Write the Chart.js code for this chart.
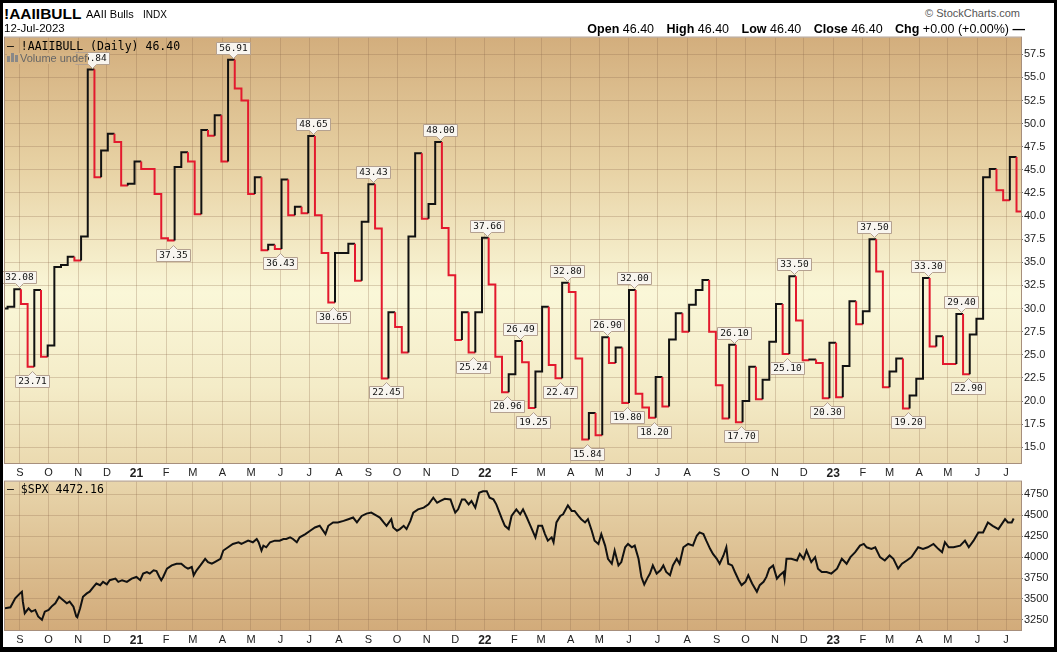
<!DOCTYPE html>
<html>
<head>
<meta charset="utf-8">
<script src="https://cdn.jsdelivr.net/npm/chart.js@4.4.0/dist/chart.umd.min.js"></script>
<style>
  body { margin: 0; background: #fff; }
  #wrap { position: relative; width: 1057px; height: 652px; overflow: hidden; background: #fff; font-family: "Liberation Sans", Arial, sans-serif; }
  canvas { position: absolute; left: 0; }
  .t { position: absolute; white-space: nowrap; color: #000; line-height: 1; }
  .mono { font-family: "DejaVu Sans Mono", monospace; font-size: 11.5px; }
  #frame { position: absolute; left: 0; top: 0; width: 1057px; height: 652px; box-sizing: border-box; border: 3px solid #000; border-bottom-width: 5px; pointer-events: none; }
  .ohlc b { margin-left: 9px; }
</style>
</head>
<body>
<div id="wrap">
  <canvas id="topChart" width="1057" height="449" style="top:30px"></canvas>
  <canvas id="botChart" width="1057" height="172" style="top:474px"></canvas>

  <div class="t" style="left:4px;top:6px;font-size:15.5px;font-weight:bold">!AAIIBULL</div>
  <div class="t" style="left:86px;top:9px;font-size:11px">AAII Bulls</div>
  <div class="t" style="left:143px;top:10px;font-size:10px">INDX</div>
  <div class="t" style="left:4px;top:23px;font-size:11.5px">12-Jul-2023</div>
  <div class="t" style="right:37px;top:8px;font-size:11px;color:#555">&copy; StockCharts.com</div>
  <div class="t ohlc" style="right:32px;top:23px;font-size:12.5px"><b>Open</b> 46.40 <b>High</b> 46.40 <b>Low</b> 46.40 <b>Close</b> 46.40 <b>Chg</b> +0.00 (+0.00%) <b style="margin-left:0">&mdash;</b></div>

  <div class="t mono" style="left:7px;top:41px">&mdash; !AAIIBULL (Daily) 46.40</div>
  <div class="t" style="left:7px;top:53px;font-size:11px;color:#666;background:#d6b484;padding-right:1px">
    <span style="display:inline-block;width:3px;height:6px;background:#888;margin-right:1px"></span><span style="display:inline-block;width:3px;height:9px;background:#888;margin-right:1px"></span><span style="display:inline-block;width:3px;height:7px;background:#888;margin-right:2px"></span>Volume undef</div>
  <div class="t mono" style="left:7px;top:484px">&mdash; $SPX 4472.16</div>

  <div id="frame"></div>
</div>
<script>
// AAII bullish % - weekly readings, first week shown starts 2020-08-12
var aaiiStart = '2020-08-12';
var aaiiBulls = [
  30.0, 30.2, 32.08, 30.5, 23.71, 32.0, 24.8, 26.0, 34.5, 34.7,
  35.6, 35.2, 37.8, 55.84, 44.2, 47.1, 48.9, 48.0, 43.3, 43.5,
  45.9, 45.1, 45.1, 42.4, 37.6, 37.35, 45.3, 46.9, 45.9, 40.2,
  49.3, 48.7, 50.9, 45.9, 56.91, 53.8, 52.5, 42.4, 44.2, 36.3,
  36.9, 36.43, 43.95, 40.1, 41.0, 40.3, 48.65, 40.1, 36.0, 30.65,
  36.0, 36.0, 37.0, 33.0, 39.4, 43.43, 38.65, 22.45, 29.6, 28.0,
  25.25, 37.8, 46.8, 39.7, 41.3, 48.00, 38.7, 33.6, 26.6, 29.6,
  25.24, 29.6, 37.66, 32.6, 24.8, 20.96, 22.9, 26.49, 24.2, 19.25,
  23.2, 30.2, 23.9, 22.47, 32.80, 31.8, 24.6, 15.84, 18.7, 16.3,
  26.90, 24.1, 25.8, 19.80, 32.00, 20.8, 19.3, 18.20, 22.6, 19.4,
  26.65, 29.5, 27.5, 30.4, 32.0, 33.1, 27.5, 21.7, 18.1, 26.10,
  17.70, 20.0, 23.7, 20.2, 22.3, 26.4, 30.5, 25.10, 33.50, 28.7,
  24.4, 24.5, 24.1, 20.30, 26.3, 20.4, 23.8, 30.8, 28.3, 29.7,
  37.50, 34.0, 21.5, 23.2, 24.6, 19.20, 20.6, 22.4, 33.30, 25.9,
  27.0, 24.0, 24.0, 29.40, 22.90, 27.2, 28.9, 44.2, 45.1, 42.8,
  41.7, 46.40, 40.5
];

// weeks that carry a value tag (index into aaiiBulls) and on which side
var tagIndex = [2, 4, 13, 25, 34, 41, 46, 49, 55, 57, 65, 70, 72, 75, 77, 79, 83, 84, 87, 90, 93, 94, 97, 109, 110, 117, 118, 123, 130, 135, 138, 143, 144];
var tagSide  = ['H','L','H','L','H','L','H','L','H','L','H','L','H','L','H','L','L','H','L','H','L','H','L','H','L','L','H','L','H','L','H','H','L'];

// S&P 500 close; day 0 = 2020-09-01
var spxDays = [
  -16, -10, -5, 0, 2, 3, 5, 9, 12, 16, 19, 23, 26, 30, 33, 37, 41, 45, 49, 52,
  56, 59, 60, 63, 66, 70, 73, 77, 80, 84, 87, 91, 94, 100, 103, 107, 112, 117, 122, 126,
  129, 133, 136, 140, 143, 146, 148, 150, 154, 159, 164, 169, 173, 176, 180, 182, 185, 189, 194, 197,
  201, 204, 210, 213, 218, 223, 229, 232, 239, 244, 248, 250, 253, 255, 258, 262, 267, 272, 276, 279,
  283, 286, 290, 293, 299, 304, 309, 314, 320, 323, 328, 333, 339, 344, 349, 353, 358, 363, 368, 374,
  377, 381, 384, 389, 391, 395, 398, 402, 405, 409, 412, 417, 423, 428, 433, 437, 440, 445, 451, 454,
  456, 459, 463, 466, 470, 473, 477, 481, 485, 489, 492, 496, 499, 505, 508, 512, 515, 520, 524, 527,
  531, 534, 540, 543, 547, 550, 553, 557, 559, 562, 566, 569, 574, 578, 581, 585, 588, 592, 595, 599,
  602, 606, 609, 613, 616, 620, 623, 627, 630, 634, 637, 641, 644, 648, 651, 654, 657, 660, 663, 667,
  671, 674, 677, 681, 684, 688, 691, 695, 700, 705, 709, 712, 716, 719, 723, 726, 730, 733, 737, 740,
  742, 746, 749, 753, 756, 760, 763, 767, 772, 775, 779, 782, 785, 789, 793, 796, 800, 801, 803, 808,
  814, 817, 821, 824, 829, 833, 836, 840, 845, 850, 856, 861, 866, 870, 875, 880, 884, 887, 892, 896,
  901, 906, 911, 915, 920, 924, 929, 934, 941, 946, 951, 957, 962, 966, 969, 973, 978, 985, 990, 994,
  999, 1004, 1009, 1014, 1019, 1025, 1032, 1035, 1039, 1041
];
var spxClose = [
  3388, 3400, 3507, 3566, 3586, 3467, 3329, 3388, 3348, 3368, 3290, 3250, 3348, 3368, 3408, 3447, 3526, 3487, 3447, 3467,
  3408, 3290, 3280, 3388, 3526, 3566, 3586, 3645, 3684, 3664, 3704, 3674, 3724, 3743, 3704, 3724, 3704, 3743, 3763, 3724,
  3803, 3822, 3803, 3842, 3833, 3763, 3724, 3763, 3862, 3901, 3921, 3921, 3882, 3862, 3882, 3783, 3842, 3901, 3980, 3941,
  3921, 3941, 3980, 4079, 4118, 4158, 4178, 4158, 4197, 4178, 4217, 4178, 4079, 4138, 4118, 4178, 4197, 4197, 4217, 4217,
  4237, 4217, 4178, 4237, 4276, 4316, 4355, 4375, 4276, 4375, 4415, 4415, 4434, 4454, 4474, 4415, 4493, 4521, 4533, 4493,
  4474, 4415, 4375, 4454, 4355, 4316, 4336, 4375, 4336, 4434, 4533, 4572, 4592, 4632, 4711, 4651, 4671, 4699, 4691, 4592,
  4533, 4572, 4691, 4691, 4632, 4671, 4592, 4770, 4789, 4789, 4711, 4691, 4632, 4454, 4375, 4336, 4493, 4572, 4513, 4572,
  4474, 4395, 4237, 4375, 4375, 4276, 4197, 4237, 4178, 4415, 4493, 4513, 4620, 4553, 4553, 4493, 4454, 4415, 4454, 4316,
  4197, 4158, 4276, 4138, 3980, 3921, 4079, 3901, 3941, 4118, 4158, 4118, 4138, 3980, 3763, 3672, 3743, 3803, 3901, 3803,
  3842, 3901, 3822, 3783, 3901, 3980, 3921, 4118, 4158, 4138, 4256, 4296, 4276, 4197, 4099, 4039, 3980, 3921, 4020, 4118,
  3921, 3901, 3822, 3724, 3665, 3704, 3783, 3684, 3586, 3665, 3704, 3763, 3862, 3901, 3743, 3783, 3822, 3743, 3980, 3980,
  3960, 4039, 3980, 4079, 3941, 4000, 3862, 3822, 3822, 3803, 3862, 3980, 3921, 4000, 4059, 4138, 4158, 4118, 4099, 4118,
  4000, 3960, 4020, 3980, 3862, 3921, 3960, 4000, 4118, 4099, 4118, 4158, 4099, 4059, 4178, 4118, 4118, 4138, 4197, 4118,
  4197, 4296, 4296, 4415, 4375, 4336, 4454, 4415, 4415, 4462
];

var monthLabels = ['S','O','N','D','21','F','M','A','M','J','J','A','S','O','N','D','22','F','M','A','M','J','J','A','S','O','N','D','23','F','M','A','M','J','J'];
var aaiiTicks = [15, 17.5, 20, 22.5, 25, 27.5, 30, 32.5, 35, 37.5, 40, 42.5, 45, 47.5, 50, 52.5, 55, 57.5];
var spxTicks = [3250, 3500, 3750, 4000, 4250, 4500, 4750];

// ---- helpers ----
var DAY = 86400000;
var base = Date.UTC(2020, 8, 1);
function dayOf(s) {
  var p = s.split('-');
  return (Date.UTC(+p[0], +p[1] - 1, +p[2]) - base) / DAY;
}
var monthDays = monthLabels.map(function (l, k) { return (Date.UTC(2020, 8 + k, 1) - base) / DAY; });
var xMin = -15.7, xMax = 1048.7;
var gridCol = 'rgba(140,105,75,0.28)';
var FONT = '"Liberation Sans", Arial, sans-serif';
var UP = '#111111', DOWN = '#e3192e';

// step line: each point sits at the end of its week so that the move and the flat share a colour
var firstDay = dayOf(aaiiStart);
var aaiiPts = [{ x: firstDay, y: aaiiBulls[0] }];
var aaiiCol = [UP];
for (var i = 0; i < aaiiBulls.length; i++) {
  aaiiPts.push({ x: firstDay + 7 * (i + 1), y: aaiiBulls[i] });
  var prev = i > 0 ? aaiiBulls[i - 1] : aaiiBulls[0];
  aaiiCol.push(aaiiBulls[i] > prev ? UP : aaiiBulls[i] < prev ? DOWN : aaiiCol[aaiiCol.length - 1]);
}
var spxPts = spxDays.map(function (d, k) { return { x: d, y: spxClose[k] }; });

function monthAxis() {
  return {
    type: 'linear', min: xMin, max: xMax,
    afterBuildTicks: function (s) { s.ticks = monthDays.map(function (d) { return { value: d }; }); },
    afterFit: function (s) { s.height = 16; },
    grid: { color: gridCol, drawTicks: false },
    border: { display: false },
    ticks: {
      autoSkip: false, maxRotation: 0, padding: 3, color: '#222',
      callback: function (v, k) { return monthLabels[k]; },
      font: function (c) {
        var l = monthLabels[c.index];
        return l && l.length === 2 ? { family: FONT, size: 12, weight: 'bold' } : { family: FONT, size: 11 };
      }
    }
  };
}

function valueAxis(min, max, ticks, fmt) {
  return {
    position: 'right', min: min, max: max,
    afterBuildTicks: function (s) { s.ticks = ticks.map(function (v) { return { value: v }; }); },
    afterFit: function (s) { s.width = 32; },
    grid: { color: gridCol, tickLength: 2, tickColor: '#777' },
    border: { display: false },
    ticks: { padding: 1, color: '#222', font: { family: FONT, size: 11 }, callback: fmt }
  };
}

function panelPlugin(stops) {
  return {
    id: 'panel',
    beforeDraw: function (chart) {
      var a = chart.chartArea, c = chart.ctx;
      var g = c.createLinearGradient(0, a.top, 0, a.bottom);
      stops.forEach(function (s) { g.addColorStop(s[0], s[1]); });
      c.save();
      c.fillStyle = g;
      c.fillRect(a.left, a.top, a.right - a.left, a.bottom - a.top);
      c.restore();
    },
    afterDraw: function (chart) {
      var a = chart.chartArea, c = chart.ctx;
      c.save();
      c.strokeStyle = '#a78f7c';
      c.lineWidth = 1;
      c.strokeRect(a.left - 0.5, a.top - 0.5, a.right - a.left + 1, a.bottom - a.top + 1);
      c.restore();
    }
  };
}

function drawTag(c, x, y, text, above) {
  c.font = '9.5px "DejaVu Sans Mono", monospace';
  var w = Math.round(c.measureText(text).width) + 5, h = 12;
  var bx = Math.round(x - w / 2) + 0.5;
  var by = above ? Math.round(y - 6 - h) + 0.5 : Math.round(y + 8) + 0.5;
  x = Math.round(x) + 0.5;
  c.beginPath();
  if (above) {
    c.moveTo(bx, by); c.lineTo(bx + w, by); c.lineTo(bx + w, by + h);
    c.lineTo(x + 4, by + h); c.lineTo(x, by + h + 4); c.lineTo(x - 4, by + h);
    c.lineTo(bx, by + h); c.closePath();
  } else {
    c.moveTo(bx, by); c.lineTo(x - 4, by); c.lineTo(x, by - 4); c.lineTo(x + 4, by);
    c.lineTo(bx + w, by); c.lineTo(bx + w, by + h); c.lineTo(bx, by + h); c.closePath();
  }
  c.fillStyle = '#f8f5ef';
  c.fill();
  c.strokeStyle = '#b4a190';
  c.lineWidth = 1;
  c.stroke();
  c.fillStyle = '#111';
  c.textAlign = 'center';
  c.textBaseline = 'middle';
  c.fillText(text, x, by + h / 2 + 0.5);
}

var tagPlugin = {
  id: 'tags',
  afterDatasetsDraw: function (chart) {
    var xs = chart.scales.x, ys = chart.scales.y, c = chart.ctx;
    c.save();
    tagIndex.forEach(function (idx, k) {
      var px = xs.getPixelForValue(firstDay + 7 * (idx + 1)) - 2;
      var py = ys.getPixelForValue(aaiiBulls[idx]);
      drawTag(c, px, py, aaiiBulls[idx].toFixed(2), tagSide[k] === 'H');
    });
    c.restore();
  }
};

new Chart(document.getElementById('topChart'), {
  type: 'line',
  data: {
    datasets: [{
      data: aaiiPts,
      stepped: 'after',
      borderWidth: 2,
      borderColor: UP,
      pointRadius: 0,
      segment: { borderColor: function (c) { return aaiiCol[c.p1DataIndex]; } }
    }]
  },
  options: {
    responsive: false, animation: false, devicePixelRatio: 1,
    parsing: false,
    layout: { padding: { left: 5, top: 7, right: 4, bottom: 0 } },
    plugins: { legend: { display: false }, tooltip: { enabled: false } },
    scales: {
      x: monthAxis(),
      y: valueAxis(13.3, 59.3, aaiiTicks, function (v) { return v.toFixed(1); })
    }
  },
  plugins: [panelPlugin([[0, '#d3ae7d'], [0.3, '#e7d1a3'], [0.6, '#faf7d8'], [0.82, '#f4ecc8'], [1, '#ebdab0']]), tagPlugin]
});

new Chart(document.getElementById('botChart'), {
  type: 'line',
  data: {
    datasets: [{
      data: spxPts,
      borderColor: '#111',
      borderWidth: 2,
      pointRadius: 0,
      tension: 0
    }]
  },
  options: {
    responsive: false, animation: false, devicePixelRatio: 1,
    parsing: false,
    layout: { padding: { left: 5, top: 6, right: 4, bottom: 0 } },
    plugins: { legend: { display: false }, tooltip: { enabled: false } },
    scales: {
      x: monthAxis(),
      y: valueAxis(3128, 4904, spxTicks, function (v) { return String(v); })
    }
  },
  plugins: [panelPlugin([[0, '#e8d5ab'], [1, '#d2ab7a']])]
});
</script>
</body>
</html>
